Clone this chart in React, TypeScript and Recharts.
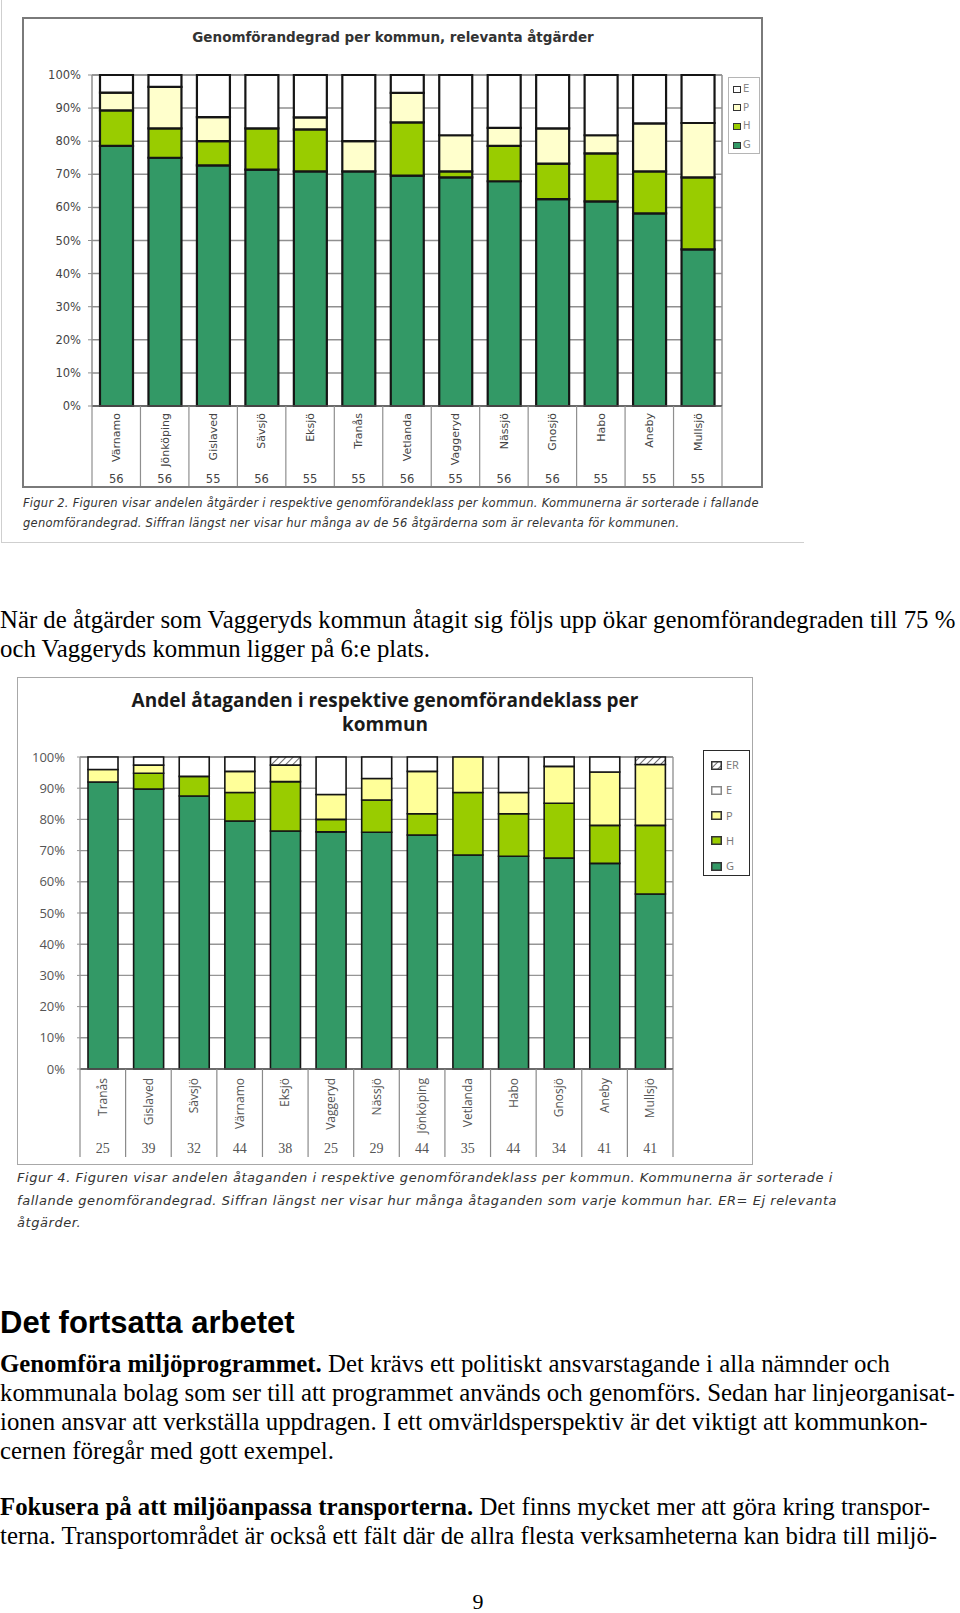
import React from "react";
import { BarChart, Bar, XAxis, YAxis, CartesianGrid, Legend } from "recharts";

// Figur 2 – genomförandegrad per kommun, relevanta åtgärder (%)
const kommuner1 = ["Värnamo", "Jönköping", "Gislaved", "Sävsjö", "Eksjö", "Tranås", "Vetlanda", "Vaggeryd", "Nässjö", "Gnosjö", "Habo", "Aneby", "Mullsjö"];
const antal1 = [56, 56, 55, 56, 55, 55, 56, 55, 56, 56, 55, 55, 55];
const g1 = [78.6, 75.0, 72.7, 71.4, 70.9, 70.9, 69.6, 69.1, 67.9, 62.5, 61.8, 58.2, 47.3];
const h1 = [10.7, 8.9, 7.3, 12.5, 12.7, 0, 16.1, 1.8, 10.7, 10.7, 14.5, 12.7, 21.8];
const p1 = [5.4, 12.5, 7.3, 0, 3.6, 9.1, 8.9, 10.9, 5.4, 10.7, 5.5, 14.5, 16.4];
const e1 = [5.3, 3.6, 12.7, 16.1, 12.8, 20.0, 5.4, 18.2, 16.0, 16.1, 18.2, 14.6, 14.5];

// Figur 4 – andel åtaganden per genomförandeklass (%)
const kommuner2 = ["Tranås", "Gislaved", "Sävsjö", "Värnamo", "Eksjö", "Vaggeryd", "Nässjö", "Jönköping", "Vetlanda", "Habo", "Gnosjö", "Aneby", "Mullsjö"];
const antal2 = [25, 39, 32, 44, 38, 25, 29, 44, 35, 44, 34, 41, 41];
const g2 = [92.0, 89.7, 87.5, 79.5, 76.3, 76.0, 75.9, 75.0, 68.6, 68.2, 67.6, 65.9, 56.1];
const h2 = [0, 5.1, 6.3, 9.1, 15.8, 4.0, 10.3, 6.8, 20.0, 13.6, 17.6, 12.2, 22.0];
const p2 = [4.0, 2.6, 0, 6.8, 5.3, 8.0, 6.9, 13.6, 11.4, 6.8, 11.8, 17.1, 19.5];
const e2 = [4.0, 2.6, 6.2, 4.6, 0, 12.0, 6.9, 4.6, 0, 11.4, 3.0, 4.8, 0];
const er2 = [0, 0, 0, 0, 2.6, 0, 0, 0, 0, 0, 0, 0, 2.4];

const procentTicks = [0, 10, 20, 30, 40, 50, 60, 70, 80, 90, 100];

const serier1 = [
  { key: "G", fill: "#339966" },
  { key: "H", fill: "#99cc00" },
  { key: "P", fill: "#ffffcc" },
  { key: "E", fill: "#ffffff" },
];
const serier2 = [
  { key: "G", fill: "#339966" },
  { key: "H", fill: "#99cc00" },
  { key: "P", fill: "#ffff99" },
  { key: "E", fill: "#ffffff" },
  { key: "ER", fill: "url(#skraffering)" },
];

const data1 = kommuner1.map((k, i) => ({ kommun: k, G: g1[i], H: h1[i], P: p1[i], E: e1[i] }));
const data2 = kommuner2.map((k, i) => ({ kommun: k, G: g2[i], H: h2[i], P: p2[i], E: e2[i], ER: er2[i] }));

const SANS1 = "DejaVu Sans";
const SANS2 = "Open Sans";

function KommunTick(props: any) {
  const { x, y, payload, names, counts, step, nameOffset, countOffset, tableH, font, nameSize, countFont, countSize, lineColor, textColor } = props;
  const i = names.indexOf(payload.value);
  const ny = y + nameOffset;
  return (
    <g>
      <text
        x={x}
        y={ny}
        dy="0.35em"
        transform={`rotate(-90 ${x} ${ny})`}
        textAnchor="end"
        fontFamily={font}
        fontSize={nameSize}
        fill={textColor}
      >
        {payload.value}
      </text>
      <text x={x} y={y + countOffset} dy="0.35em" textAnchor="middle" fontFamily={countFont} fontSize={countSize} fill={textColor}>
        {counts[i]}
      </text>
      <line x1={x + step / 2} x2={x + step / 2} y1={y} y2={y + tableH} stroke={lineColor} strokeWidth={1.2} />
      {i === 0 && <line x1={x - step / 2} x2={x - step / 2} y1={y} y2={y + tableH} stroke={lineColor} strokeWidth={1.2} />}
    </g>
  );
}

function Figur2() {
  const W = 737;
  const H = 467;
  const m = { top: 56, right: 39, bottom: 0, left: 0 };
  const yW = 68;
  const step = (W - yW - m.right) / kommuner1.length;
  return (
    <div style={{ position: "absolute", left: 22, top: 17, width: W, height: H, border: "2px solid #7a7a7a", background: "#fff" }}>
      <div
        style={{
          position: "absolute",
          left: 0,
          width: 738,
          top: 9,
          lineHeight: "18px",
          textAlign: "center",
          fontFamily: SANS1,
          fontWeight: "bold",
          fontSize: 13.5,
          color: "#333",
          whiteSpace: "nowrap",
        }}
      >
        Genomförandegrad per kommun, relevanta åtgärder
      </div>
      <BarChart width={W} height={H} data={data1} margin={m} barSize={33}>
        <CartesianGrid
          stroke="#8f8f8f"
          strokeWidth={1.5}
          verticalCoordinatesGenerator={({ offset }: any) => [offset.left + offset.width]}
        />
        <XAxis
          dataKey="kommun"
          interval={0}
          height={80}
          tickLine={false}
          tickSize={0}
          tickMargin={0}
          axisLine={{ stroke: "#555", strokeWidth: 1.5 }}
          tick={(p: any) => (
            <KommunTick
              {...p}
              names={kommuner1}
              counts={antal1}
              step={step}
              nameOffset={7}
              countOffset={73}
              tableH={80}
              font={SANS1}
              nameSize={11}
              countFont={SANS1}
              countSize={11.5}
              lineColor="#8f8f8f"
              textColor="#444"
            />
          )}
        />
        <YAxis
          domain={[0, 100]}
          ticks={procentTicks}
          width={yW}
          tickFormatter={(v: number) => `${v}%`}
          tickSize={4}
          tickMargin={7}
          tickLine={{ stroke: "#8f8f8f" }}
          axisLine={{ stroke: "#8f8f8f", strokeWidth: 1.5 }}
          tick={{ fontFamily: SANS1, fontSize: 11.5, fill: "#444" }}
        />
        <Legend
          layout="vertical"
          align="center"
          verticalAlign="middle"
          wrapperStyle={{ left: 704, top: 58, width: 32, height: 77 }}
          content={() => (
            <div style={{ position: "relative", width: 30, height: 75, border: "1px solid #b5b5b5", background: "#fff" }}>
              {[...serier1].reverse().map((s, i) => (
                <div key={s.key} style={{ position: "absolute", left: 4, top: 6 + i * 18.7, height: 10, display: "flex", alignItems: "center" }}>
                  <span style={{ display: "inline-block", width: 6, height: 5, background: s.fill, border: "1.5px solid #333" }} />
                  <span style={{ marginLeft: 2, fontFamily: SANS1, fontSize: 10, color: "#888", lineHeight: "10px" }}>{s.key}</span>
                </div>
              ))}
            </div>
          )}
        />
        {serier1.map((s) => (
          <Bar key={s.key} dataKey={s.key} stackId="a" fill={s.fill} stroke="#151515" strokeWidth={2.2} isAnimationActive={false} />
        ))}
      </BarChart>
    </div>
  );
}

function Figur4() {
  const W = 734;
  const H = 486;
  const m = { top: 79, right: 79, bottom: 7, left: 0 };
  const yW = 62;
  const step = (W - yW - m.right) / kommuner2.length;
  return (
    <div style={{ position: "absolute", left: 17, top: 677, width: W, height: H, border: "1px solid #a8a8a8", background: "#fff" }}>
      <div
        style={{
          position: "absolute",
          left: 0,
          width: 734,
          top: 10,
          lineHeight: "24px",
          textAlign: "center",
          fontFamily: SANS2,
          fontWeight: "bold",
          fontSize: 19,
          color: "#1a1a1a",
          whiteSpace: "nowrap",
        }}
      >
        <div>Andel åtaganden i respektive genomförandeklass per</div>
        <div>kommun</div>
      </div>
      <BarChart width={W} height={H} data={data2} margin={m} barSize={30}>
        <defs>
          <pattern id="skraffering" width="5" height="5" patternUnits="userSpaceOnUse" patternTransform="rotate(45)">
            <rect width="5" height="5" fill="#ffffff" />
            <line x1="0" y1="0" x2="0" y2="5" stroke="#444" strokeWidth="1.6" />
          </pattern>
        </defs>
        <CartesianGrid
          stroke="#959595"
          strokeWidth={1.4}
          verticalCoordinatesGenerator={({ offset }: any) => [offset.left + offset.width]}
        />
        <XAxis
          dataKey="kommun"
          interval={0}
          height={88}
          tickLine={false}
          tickSize={0}
          tickMargin={0}
          axisLine={{ stroke: "#555", strokeWidth: 1.4 }}
          tick={(p: any) => (
            <KommunTick
              {...p}
              names={kommuner2}
              counts={antal2}
              step={step}
              nameOffset={9}
              countOffset={79}
              tableH={88}
              font={SANS2}
              nameSize={12}
              countFont="Liberation Serif"
              countSize={14}
              lineColor="#8a8a8a"
              textColor="#555"
            />
          )}
        />
        <YAxis
          domain={[0, 100]}
          ticks={procentTicks}
          width={yW}
          tickFormatter={(v: number) => `${v}%`}
          tickSize={3}
          tickMargin={12}
          tickLine={{ stroke: "#959595" }}
          axisLine={{ stroke: "#959595", strokeWidth: 1.4 }}
          tick={{ fontFamily: SANS2, fontSize: 13, fill: "#555" }}
        />
        <Legend
          layout="vertical"
          align="center"
          verticalAlign="middle"
          wrapperStyle={{ left: 685, top: 72, width: 48, height: 128 }}
          content={() => (
            <div style={{ position: "relative", width: 45, height: 124, border: "1.5px solid #2a2a2a", background: "#fff" }}>
              {[...serier2].reverse().map((s, i) => (
                <div key={s.key} style={{ position: "absolute", left: 7, top: 8 + i * 25.3, height: 12, display: "flex", alignItems: "center" }}>
                  <svg width={11} height={9}>
                    <rect x={0.75} y={0.75} width={9.5} height={7.5} fill={s.fill} stroke={s.key === "E" ? "#888" : "#333"} strokeWidth={1.5} />
                  </svg>
                  <span style={{ marginLeft: 4, fontFamily: SANS2, fontSize: 11, color: "#777", lineHeight: "12px" }}>{s.key}</span>
                </div>
              ))}
            </div>
          )}
        />
        {serier2.map((s) => (
          <Bar key={s.key} dataKey={s.key} stackId="a" fill={s.fill} stroke="#151515" strokeWidth={1.6} isAnimationActive={false} />
        ))}
      </BarChart>
    </div>
  );
}

const capStyle: React.CSSProperties = {
  position: "absolute",
  whiteSpace: "nowrap",
  fontFamily: SANS1,
  fontStyle: "italic",
  color: "#333",
};

const bodyStyle: React.CSSProperties = {
  position: "absolute",
  left: 0,
  whiteSpace: "nowrap",
  fontFamily: "Liberation Serif",
  fontSize: 24.8,
  lineHeight: "29px",
  color: "#000",
};

export default function App() {
  return (
    <div style={{ position: "absolute", left: 0, top: 0, width: 960, height: 1613, background: "#fff", overflow: "hidden" }}>
      <div style={{ position: "absolute", left: 1, top: 0, width: 802, height: 542, borderLeft: "1.5px solid #cfcfcf", borderBottom: "1.5px solid #cfcfcf" }} />
      <Figur2 />
      <div style={{ ...capStyle, left: 23, top: 494, fontSize: 11.5, letterSpacing: 0.25, lineHeight: "19.5px" }}>
        <div>Figur 2. Figuren visar andelen åtgärder i respektive genomförandeklass per kommun. Kommunerna är sorterade i fallande</div>
        <div>genomförandegrad. Siffran längst ner visar hur många av de 56 åtgärderna som är relevanta för kommunen.</div>
      </div>

      <div style={{ ...bodyStyle, top: 605 }}>
        <div>När de åtgärder som Vaggeryds kommun åtagit sig följs upp ökar genomförandegraden till 75 %</div>
        <div>och Vaggeryds kommun ligger på 6:e plats.</div>
      </div>

      <Figur4 />
      <div style={{ ...capStyle, left: 17, top: 1167, fontSize: 13, letterSpacing: 0.55, lineHeight: "22.5px" }}>
        <div>Figur 4. Figuren visar andelen åtaganden i respektive genomförandeklass per kommun. Kommunerna är sorterade i</div>
        <div>fallande genomförandegrad. Siffran längst ner visar hur många åtaganden som varje kommun har. ER= Ej relevanta</div>
        <div>åtgärder.</div>
      </div>

      <div
        style={{
          position: "absolute",
          left: 0,
          top: 1305,
          whiteSpace: "nowrap",
          fontFamily: "Liberation Sans",
          fontWeight: "bold",
          fontSize: 31,
          lineHeight: "36px",
          color: "#000",
        }}
      >
        Det fortsatta arbetet
      </div>

      <div style={{ ...bodyStyle, top: 1349 }}>
        <div>
          <b>Genomföra miljöprogrammet.</b> Det krävs ett politiskt ansvarstagande i alla nämnder och
        </div>
        <div>kommunala bolag som ser till att programmet används och genomförs. Sedan har linjeorganisat-</div>
        <div>ionen ansvar att verkställa uppdragen. I ett omvärldsperspektiv är det viktigt att kommunkon-</div>
        <div>cernen föregår med gott exempel.</div>
      </div>

      <div style={{ ...bodyStyle, top: 1492 }}>
        <div>
          <b>Fokusera på att miljöanpassa transporterna.</b> Det finns mycket mer att göra kring transpor-
        </div>
        <div>terna. Transportområdet är också ett fält där de allra flesta verksamheterna kan bidra till miljö-</div>
      </div>

      <div style={{ ...bodyStyle, left: 0, width: 956, textAlign: "center", top: 1591, fontSize: 22, lineHeight: "22px" }}>9</div>
    </div>
  );
}
